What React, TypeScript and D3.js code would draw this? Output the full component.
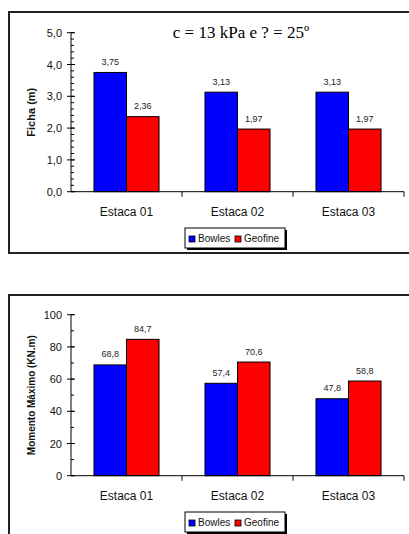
import React from "react";
import * as d3 from "d3";

const categories = ["Estaca 01", "Estaca 02", "Estaca 03"];
const seriesNames = ["Bowles", "Geofine"];
const seriesColors = ["#0000ff", "#ff0000"];
const fichaBowles = [3.75, 3.13, 3.13];
const fichaGeofine = [2.36, 1.97, 1.97];
const momentoBowles = [68.8, 57.4, 47.8];
const momentoGeofine = [84.7, 70.6, 58.8];
const fichaTicks = [0, 1, 2, 3, 4, 5];
const momentoTicks = [0, 20, 40, 60, 80, 100];

const fmt = (v: number, d: number) => v.toFixed(d).replace(".", ",");

type ChartProps = {
  top: number;
  frameH: number;
  y0: number;
  y1: number;
  max: number;
  ticks: number[];
  minorStep: number;
  tickDec: number;
  valDec: number[];
  series: number[][];
  yTitle: string;
  yTitleSize: number;
  title?: string;
  legendY: number;
};

function Chart(p: ChartProps) {
  const x = d3
    .scaleBand<string>()
    .domain(categories)
    .range([71, 404])
    .paddingInner(0.414)
    .paddingOuter(0.207);
  const sub = d3
    .scaleBand<number>()
    .domain([0, 1])
    .range([0, x.bandwidth()]);
  const y = d3.scaleLinear().domain([0, p.max]).range([p.y0, p.y1]);
  const minors = d3.range(0, p.max + 1e-9, p.minorStep);
  const valDecs = p.valDec;
  return (
    <g>
      <rect
        x={9}
        y={p.top}
        width={420}
        height={p.frameH}
        fill="white"
        stroke="#222"
        strokeWidth={2}
      />
      {p.title && (
        <text
          x={241}
          y={p.top + 26}
          textAnchor="middle"
          fontFamily="'Liberation Serif', 'Times New Roman', serif"
          fontSize={17}
        >
          {p.title}
        </text>
      )}
      {/* bars */}
      {p.series.map((vals, si) =>
        vals.map((v, ci) => {
          const bx = (x(categories[ci]) as number) + (sub(si) as number);
          return (
            <g key={`${si}-${ci}`}>
              <rect
                x={bx}
                y={y(v)}
                width={sub.bandwidth()}
                height={y(0) - y(v)}
                fill={seriesColors[si]}
                stroke="#000"
                strokeWidth={1}
              />
              <text
                x={bx + sub.bandwidth() / 2}
                y={y(v) - 7.5}
                textAnchor="middle"
                fontFamily="Arial, 'Liberation Sans', sans-serif"
                fontSize={9}
                fill="#222"
              >
                {fmt(v, valDecs[si])}
              </text>
            </g>
          );
        })
      )}
      {/* y axis */}
      <line x1={71} x2={71} y1={y(0)} y2={y(p.max)} stroke="#000" strokeWidth={1} />
      {minors.map((t, i) => (
        <line key={`m${i}`} x1={71} x2={74} y1={y(t)} y2={y(t)} stroke="#000" strokeWidth={1} />
      ))}
      {p.ticks.map((t) => (
        <g key={`t${t}`}>
          <line x1={67} x2={75} y1={y(t)} y2={y(t)} stroke="#000" strokeWidth={1} />
          <text
            x={62}
            y={y(t) + 4}
            textAnchor="end"
            fontFamily="Arial, 'Liberation Sans', sans-serif"
            fontSize={11}
            fill="#111"
          >
            {fmt(t, p.tickDec)}
          </text>
        </g>
      ))}
      {/* x axis */}
      <line x1={71} x2={404} y1={y(0)} y2={y(0)} stroke="#000" strokeWidth={1} />
      {categories.map((c) => {
        const s = (x(c) as number) - (x.step() * x.paddingInner()) / 2 + x.step();
        return (
          <line key={`xt${c}`} x1={s} x2={s} y1={y(0)} y2={y(0) + 5} stroke="#000" strokeWidth={1} />
        );
      })}
      {categories.map((c) => (
        <text
          key={`xl${c}`}
          x={(x(c) as number) + x.bandwidth() / 2}
          y={y(0) + 24}
          textAnchor="middle"
          fontFamily="Arial, 'Liberation Sans', sans-serif"
          fontSize={12}
          fill="#111"
        >
          {c}
        </text>
      ))}
      {/* y title */}
      <text
        transform={`translate(35,${(y(0) + y(p.max)) / 2}) rotate(-90)`}
        textAnchor="middle"
        fontFamily="Arial, 'Liberation Sans', sans-serif"
        fontWeight="bold"
        fontSize={p.yTitleSize}
        fill="#111"
      >
        {p.yTitle}
      </text>
      {/* legend */}
      <g transform={`translate(185,${p.legendY})`}>
        <rect x={2} y={2} width={100} height={20} fill="#000" />
        <rect x={0} y={0} width={100} height={20} fill="#fff" stroke="#000" strokeWidth={1} />
        {seriesNames.map((n, i) => (
          <g key={n} transform={`translate(${4 + i * 46},0)`}>
            <rect x={0} y={8} width={6} height={6} fill={seriesColors[i]} stroke="#000" strokeWidth={0.8} />
            <text
              x={9}
              y={14}
              fontFamily="Arial, 'Liberation Sans', sans-serif"
              fontSize={10}
              fill="#111"
            >
              {n}
            </text>
          </g>
        ))}
      </g>
    </g>
  );
}

export default function App() {
  return (
    <svg width={409} height={534} style={{ position: "absolute", left: 0, top: 0 }}>
      <rect x={0} y={0} width={409} height={534} fill="#fff" />
      <Chart
        top={12}
        frameH={241}
        y0={191.7}
        y1={32.7}
        max={5}
        ticks={fichaTicks}
        minorStep={0.2}
        tickDec={1}
        valDec={[2, 2]}
        series={[fichaBowles, fichaGeofine]}
        yTitle="Ficha (m)"
        yTitleSize={11}
        title="c = 13 kPa e ? = 25º"
        legendY={228}
      />
      <Chart
        top={295}
        frameH={260}
        y0={475.7}
        y1={314.7}
        max={100}
        ticks={momentoTicks}
        minorStep={10}
        tickDec={0}
        valDec={[1, 1]}
        series={[momentoBowles, momentoGeofine]}
        yTitle="Momento Máximo (KN.m)"
        yTitleSize={10}
        legendY={512}
      />
    </svg>
  );
}
